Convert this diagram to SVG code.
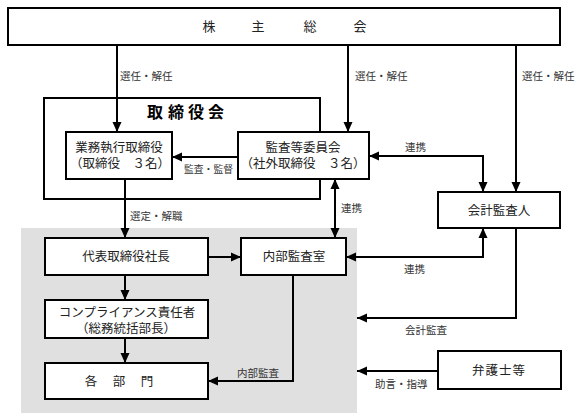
<svg xmlns="http://www.w3.org/2000/svg" width="582" height="420" viewBox="0 0 582 420">
<defs>
<marker id="ah" markerUnits="userSpaceOnUse" markerWidth="10" markerHeight="10" viewBox="0 0 10 10" refX="10" refY="5" orient="auto-start-reverse">
<path d="M0,0.5 L10,5 L0,9.5 z" fill="#000"/>
</marker>
<style>
.box{fill:#fff;stroke:#000;stroke-width:2}
.t{font-family:"Liberation Serif","Noto Sans CJK JP",serif;font-size:12.5px;fill:#222;text-anchor:middle;dominant-baseline:central}
.l{font-family:"Liberation Serif","Noto Sans CJK JP",serif;font-size:10.5px;fill:#333;dominant-baseline:central}
.c{fill:none;stroke:#000;stroke-width:2}
.a{marker-end:url(#ah)}
.b{marker-start:url(#ah);marker-end:url(#ah)}
</style>
</defs>
<rect x="21" y="228" width="336" height="185" fill="#e0e0e0"/>
<g id="shareholders">
<rect class="box" x="8" y="8" width="552" height="37"/>
<text class="t" x="209 258 310 360" y="26" style="font-size:13px">株主総会</text>
</g>
<g id="board">
<rect x="44" y="98" width="276" height="101" fill="none" stroke="#000" stroke-width="2"/>
<text class="t" x="155 176 196 216" y="112" style="font-size:16px;font-weight:bold;fill:#000">取締役会</text>
</g>
<g id="exec">
<rect class="box" x="66" y="132" width="106" height="47"/>
<text class="t" x="119" y="148">業務執行取締役</text>
<text class="t" x="120" y="164">（取締役　３名）</text>
</g>
<g id="audit-committee">
<rect class="box" x="238" y="132" width="131" height="47"/>
<text class="t" x="303" y="148">監査等委員会</text>
<text class="t" x="303" y="164">（社外取締役　３名）</text>
</g>
<g id="accounting-auditor">
<rect class="box" x="438" y="192" width="122" height="36"/>
<text class="t" x="499" y="211">会計監査人</text>
</g>
<g id="president">
<rect class="box" x="45" y="238" width="163" height="37"/>
<text class="t" x="126" y="257">代表取締役社長</text>
</g>
<g id="internal-audit">
<rect class="box" x="241" y="238" width="105" height="37"/>
<text class="t" x="294" y="257">内部監査室</text>
</g>
<g id="compliance">
<rect class="box" x="45" y="300" width="163" height="38"/>
<text class="t" x="127" y="313">コンプライアンス責任者</text>
<text class="t" x="126" y="329">（総務統括部長）</text>
</g>
<g id="departments">
<rect class="box" x="45" y="363" width="163" height="36"/>
<text class="t" x="91 119 147" y="382">各部門</text>
</g>
<g id="lawyers">
<rect class="box" x="438" y="351" width="123" height="38"/>
<text class="t" x="499" y="371" style="letter-spacing:1px">弁護士等</text>
</g>
<g id="connectors">
<path class="c a" d="M117,45 V132"/>
<path class="c a" d="M348,45 V132"/>
<path class="c a" d="M516,45 V192"/>
<path class="c a" d="M238,157 H172"/>
<path class="c b" d="M369,156 H483 V192"/>
<path class="c b" d="M335,179 V238"/>
<path class="c a" d="M125,179 V238"/>
<path class="c a" d="M208,257 H241"/>
<path class="c b" d="M346,257 H483 V228"/>
<path class="c a" d="M125,275 V300"/>
<path class="c a" d="M125,338 V363"/>
<path class="c a" d="M293,275 V381 H208"/>
<path class="c a" d="M516,228 V318 H357"/>
<path class="c a" d="M438,371 H357"/>
<text class="l" x="120" y="76">選任・解任</text>
<text class="l" x="355" y="76">選任・解任</text>
<text class="l" x="522" y="76">選任・解任</text>
<text class="l" x="184" y="169" style="font-size:9.8px">監査・監督</text>
<text class="l" x="405" y="147">連携</text>
<text class="l" x="341" y="208">連携</text>
<text class="l" x="130" y="216">選定・解職</text>
<text class="l" x="404" y="269">連携</text>
<text class="l" x="405" y="330">会計監査</text>
<text class="l" x="237" y="373">内部監査</text>
<text class="l" x="375" y="384">助言・指導</text>
</g>
</svg>
